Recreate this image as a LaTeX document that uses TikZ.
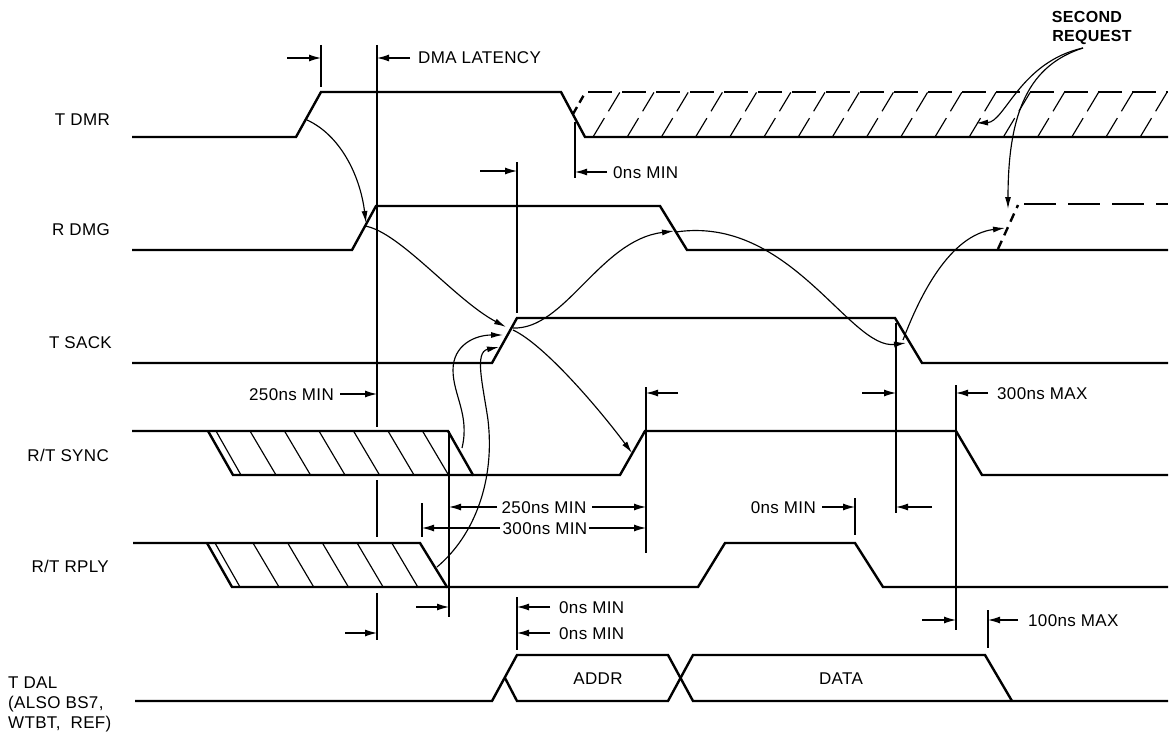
\documentclass[tikz,border=0pt]{standalone}
\usepackage{fontspec}
\setmainfont{Liberation Sans}[LetterSpace=2]
\usetikzlibrary{arrows.meta}
\begin{document}
\begin{tikzpicture}[x=1pt,y=-1pt,
  sig/.style={line width=2.4pt, line join=miter},
  thinl/.style={line width=1.15pt},
  dim/.style={line width=1.15pt, -{Latex[length=12pt,width=7pt]}},
  cause/.style={line width=1.15pt, -{Latex[length=12pt,width=6pt]}},
  lbl/.style={font=\fontsize{17}{20}\selectfont, inner sep=0pt},
  blbl/.style={font=\fontsize{16}{19}\selectfont\bfseries, inner sep=0pt},
]
\useasboundingbox (0,0) rectangle (1172,733);

% ---------- signal names ----------
\node[lbl, anchor=base east] (nDMR)  at (110,126) {T DMR};
\node[lbl, anchor=base east] (nDMG)  at (110,235) {R DMG};
\node[lbl, anchor=base east] (nSACK) at (112,348) {T SACK};
\node[lbl, anchor=base east] (nSYNC) at (109,461) {R/T SYNC};
\node[lbl, anchor=base east] (nRPLY) at (109,572) {R/T RPLY};
\node[lbl, anchor=base west] (nDAL1) at (8,688) {T DAL};
\node[lbl, anchor=base west] (nDAL2) at (8,708) {(ALSO BS7,};
\node[lbl, anchor=base west] (nDAL3) at (8,728) {WTBT,\ \ REF)};

% ---------- T DMR ----------
\draw[sig] (132,137) -- (296,137) -- (321,92) -- (561,92) -- (585,137) -- (1168,137);
\draw[sig, dash pattern=on 8pt off 5pt] (573,114) -- (585,93);
\draw[sig, dash pattern=on 24pt off 10pt] (588,92) -- (1168,92);
\foreach \k in {0,...,16}
  \draw[thinl, dash pattern=on 22pt off 8pt] ({593+34.2*\k},137) -- ++(27,-45);

% ---------- R DMG ----------
\draw[sig] (132,250) -- (352,250) -- (376,206) -- (660,206) -- (687,250) -- (1168,250);
\draw[sig, dash pattern=on 9pt off 6pt] (998,249) -- (1018,205);
\draw[sig, dash pattern=on 32pt off 12pt] (1024,204) -- (1168,204);

% ---------- T SACK ----------
\draw[sig] (132,363) -- (492,363) -- (517,318) -- (895,318) -- (922,363) -- (1168,363);

% ---------- R/T SYNC ----------
\draw[sig] (132,431) -- (448,431) -- (473,475) -- (620,475) -- (645,431) -- (956,431) -- (982,475) -- (1168,475);
\draw[sig] (208,431) -- (233,475) -- (473,475);
\draw[thinl] (216,431) -- (241,475);
\foreach \k in {0,...,5}
  \draw[thinl] ({250+34.5*\k},431) -- ++(26,44);

% ---------- R/T RPLY ----------
\draw[sig] (133,543) -- (420,543) -- (447,587) -- (698,587) -- (725,543) -- (855,543) -- (883,587) -- (1168,587);
\draw[sig] (207,543) -- (232,587) -- (447,587);
\draw[thinl] (215,543) -- (240,587);
\foreach \k in {0,...,4}
  \draw[thinl] ({253+34.7*\k},543) -- ++(26,44);

% ---------- T DAL ----------
\draw[sig] (135,701) -- (492,701) -- (517,655) -- (668,655) -- (693,701) -- (1168,701);
\draw[sig] (505,678) -- (517,701) -- (668,701) -- (693,655) -- (985,655) -- (1012,701);
\node[lbl] (addr) at (598,679) {ADDR};
\node[lbl] (data) at (841,679) {DATA};

% ---------- vertical reference lines ----------
\draw[thinl] (321,45) -- (321,87);
\draw[thinl] (377,45) -- (377,427);
\draw[thinl] (377,480) -- (377,537);
\draw[thinl] (377,593) -- (377,640);
\draw[thinl] (517,162) -- (517,313);
\draw[thinl] (575,122) -- (575,178);
\draw[thinl] (646,387) -- (646,553);
\draw[thinl] (449,431) -- (449,617);
\draw[thinl] (422,503) -- (422,537);
\draw[thinl] (517,597) -- (517,650);
\draw[thinl] (855,498) -- (855,535);
\draw[thinl] (896,323) -- (896,513);
\draw[thinl] (956,385) -- (956,630);
\draw[thinl] (988,610) -- (988,648);

% ---------- dimension arrows ----------
\draw[dim] (287,58) -- (321,58);
\draw[dim] (410,58) -- (377,58);
\node[lbl, anchor=base west] (tDMA) at (418,64) {DMA LATENCY};

\draw[dim] (480,171) -- (517,171);
\draw[dim] (607,172) -- (575,172);
\node[lbl, anchor=base west] (t0a) at (613,178) {0ns MIN};

\node[lbl, anchor=base east] (t250a) at (334,400) {250ns MIN};
\draw[dim] (340,394) -- (377,394);
\draw[dim] (678,393) -- (646,393);

\draw[dim] (862,393) -- (896,393);
\draw[dim] (988,393) -- (956,393);
\node[lbl, anchor=base west] (t300x) at (997,399) {300ns MAX};

\node[lbl, anchor=base] (t250b) at (544,513) {250ns MIN};
\draw[dim] (497,507) -- (449,507);
\draw[dim] (592,507) -- (646,507);
\node[lbl, anchor=base] (t300n) at (545,534) {300ns MIN};
\draw[dim] (500,528) -- (422,528);
\draw[dim] (589,528) -- (646,528);

\node[lbl, anchor=base east] (t0b) at (816,513) {0ns MIN};
\draw[dim] (822,507) -- (855,507);
\draw[dim] (932,507) -- (896,507);

\draw[dim] (416,607) -- (449,607);
\draw[dim] (550,607) -- (517,607);
\node[lbl, anchor=base west] (t0c) at (559,613) {0ns MIN};
\draw[dim] (550,633) -- (517,633);
\node[lbl, anchor=base west] (t0d) at (559,639) {0ns MIN};
\draw[dim] (345,633) -- (377,633);

\draw[dim] (922,620) -- (956,620);
\draw[dim] (1018,620) -- (988,620);
\node[lbl, anchor=base west] (t100) at (1028,626) {100ns MAX};

% ---------- second request label ----------
\node[blbl, anchor=base] (sr1) at (1087,23) {SECOND};
\node[blbl, anchor=base] (sr2) at (1092,42) {REQUEST};

% ---------- causal curves ----------
\draw[cause] (307,120) .. controls (340,135) and (360,175) .. (366,223);
\draw[cause] (365,226) .. controls (400,232) and (455,300) .. (506,327);
\draw[cause] (513,330) .. controls (545,345) and (600,410) .. (632,453);
\draw[cause] (513,328) .. controls (565,330) and (600,240) .. (674,231);
\draw[cause] (676,232) .. controls (790,215) and (850,350) .. (906,343);
\draw[cause] (903,340) .. controls (920,295) and (950,235) .. (1005,228);
\draw[cause] (1083,48) .. controls (1020,62) and (1005,122) .. (976,123);
\draw[cause] (1083,48) .. controls (1030,65) and (1008,110) .. (1008,209);
\draw[cause] (462,448) .. controls (470,415) and (453,395) .. (453,370)
                      .. controls (453,345) and (475,335) .. (503,335);
\draw[cause] (437,567) .. controls (475,535) and (495,480) .. (488,420)
                      .. controls (483,385) and (474,352) .. (499,347);
\end{tikzpicture}
\end{document}
